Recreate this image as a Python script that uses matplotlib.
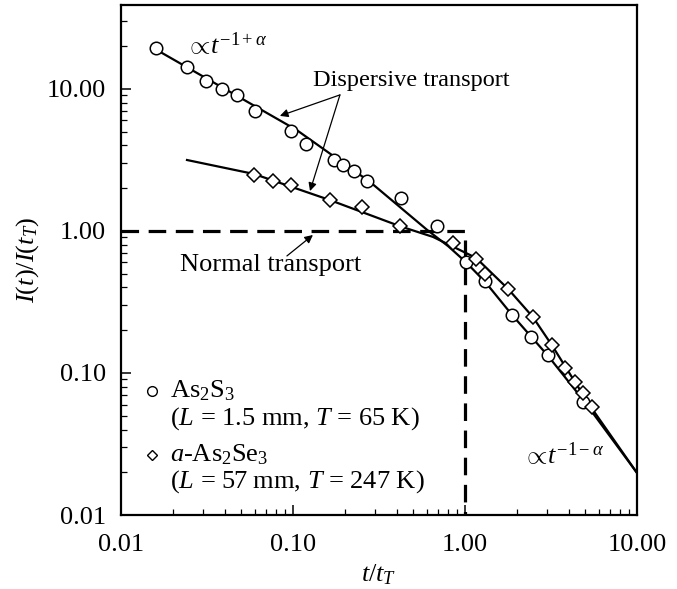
import matplotlib
matplotlib.use("Agg")
import matplotlib.pyplot as plt

plt.rcParams['font.family'] = ['Liberation Serif', 'DejaVu Serif']
plt.rcParams['mathtext.fontset'] = 'custom'
plt.rcParams['mathtext.rm'] = 'Liberation Serif'
plt.rcParams['mathtext.it'] = 'Liberation Serif:italic'
plt.rcParams['mathtext.bf'] = 'Liberation Serif:bold'

# As2S3 data (circles)
as2s3_t = [0.0160, 0.0242, 0.0312, 0.0387, 0.0472, 0.0601, 0.0973, 0.119, 0.173,
           0.195, 0.226, 0.269, 0.425, 0.687, 1.01, 1.31, 1.87, 2.42, 3.04, 4.85]
as2s3_i = [19.5, 14.3, 11.4, 10.0, 9.1, 7.0, 5.06, 4.1, 3.16,
           2.92, 2.65, 2.25, 1.71, 1.08, 0.605, 0.445, 0.256, 0.180, 0.134, 0.0625]

# a-As2Se3 data (diamonds)
as2se3_t = [0.0593, 0.0766, 0.0973, 0.164, 0.252, 0.419, 0.851, 1.16, 1.31,
            1.78, 2.48, 3.2, 3.81, 4.36, 4.86, 5.47]
as2se3_i = [2.48, 2.25, 2.11, 1.65, 1.48, 1.08, 0.822, 0.635, 0.497,
            0.391, 0.248, 0.157, 0.108, 0.0864, 0.0723, 0.0577]

# fitted curves
fit1_t = [0.0158, 0.105, 0.281, 0.601, 0.80, 1.01, 1.31, 1.88, 3.04, 4.92, 10.0]
fit1_i = [19.1, 5.14, 2.21, 1.02, 0.78, 0.605, 0.438, 0.256, 0.132, 0.0635, 0.0198]
fit2_t = [0.0242, 0.0593, 0.164, 0.419, 0.652, 1.16, 1.78, 2.48, 3.2, 4.36, 5.55, 10.0]
fit2_i = [3.16, 2.52, 1.65, 1.08, 0.908, 0.646, 0.391, 0.248, 0.157, 0.0864, 0.0548, 0.0198]

# normal transport (step)
normal_t = [0.01, 1.0, 1.0]
normal_i = [1.0, 1.0, 0.01]

xticks = [0.01, 0.1, 1.0, 10.0]
xticklabels = ['0.01', '0.10', '1.00', '10.00']
yticks = [0.01, 0.1, 1.0, 10.0]
yticklabels = ['0.01', '0.10', '1.00', '10.00']

fs = 19

fig = plt.figure(figsize=(6.77, 5.89), dpi=100)
ax = fig.add_axes([0.1787, 0.1256, 0.7622, 0.8659])
ax.set_xscale('log')
ax.set_yscale('log')
ax.set_xlim(0.01, 10)
ax.set_ylim(0.01, 39)

ax.plot(normal_t, normal_i, color='k', lw=2.3, dashes=(5.5, 3.0))
ax.plot(fit1_t, fit1_i, color='k', lw=1.6)
ax.plot(fit2_t, fit2_i, color='k', lw=1.6)
ax.plot(as2s3_t, as2s3_i, 'o', ms=9, mfc='white', mec='k', mew=1.1)
ax.plot(as2se3_t, as2se3_i, 'D', ms=7, mfc='white', mec='k', mew=1.1)

# annotations
ax.text(0.0240, 20.4, r'$\propto\!t^{-1+\alpha}$', fontsize=fs, va='center', ha='left')
ax.text(2.17, 0.0265, r'$\propto\!t^{-1-\alpha}$', fontsize=fs, va='center', ha='left')
ax.text(0.131, 11.5, 'Dispersive transport', fontsize=17.5, va='center', ha='left')
ax.text(0.022, 0.577, 'Normal transport', fontsize=fs, va='center', ha='left')

arrow = dict(arrowstyle='-|>', color='k', lw=0.9, mutation_scale=12, shrinkA=0, shrinkB=0)
ax.annotate('', xy=(0.0839, 6.46), xytext=(0.1875, 9.08), arrowprops=arrow)
ax.annotate('', xy=(0.1256, 1.91), xytext=(0.1875, 9.08), arrowprops=arrow)
ax.annotate('', xy=(0.1306, 0.937), xytext=(0.0922, 0.667), arrowprops=arrow)

# legend block
ax.plot([0.060], [0.243], 'o', ms=7, mfc='white', mec='k', mew=1.0, transform=ax.transAxes)
ax.plot([0.060], [0.118], 'D', ms=5.5, mfc='white', mec='k', mew=1.0, transform=ax.transAxes)
ax.text(0.095, 0.243, r'As$_2$S$_3$', fontsize=fs, va='center', transform=ax.transAxes)
ax.text(0.095, 0.190, r'($L$ = 1.5 mm, $T$ = 65 K)', fontsize=fs, va='center', transform=ax.transAxes)
ax.text(0.095, 0.118, r'$a$-As$_2$Se$_3$', fontsize=fs, va='center', transform=ax.transAxes)
ax.text(0.095, 0.065, r'($L$ = 57 mm, $T$ = 247 K)', fontsize=fs, va='center', transform=ax.transAxes)

ax.set_xticks(xticks)
ax.set_xticklabels(xticklabels)
ax.set_yticks(yticks)
ax.set_yticklabels(yticklabels)
ax.tick_params(which='major', direction='in', length=7, width=1.1, labelsize=fs)
ax.tick_params(axis='x', which='major', pad=14)
ax.tick_params(axis='y', which='major', pad=11)
ax.tick_params(which='minor', direction='in', length=4, width=0.9)
ax.tick_params(top=False, right=False, which='both')
for s in ax.spines.values():
    s.set_linewidth(1.6)

ax.set_xlabel(r'$t/t_T$', fontsize=fs, labelpad=4)
ax.set_ylabel(r'$I(t)/I(t_T)$', fontsize=fs, labelpad=4)

fig.savefig('out.png', dpi=100)
